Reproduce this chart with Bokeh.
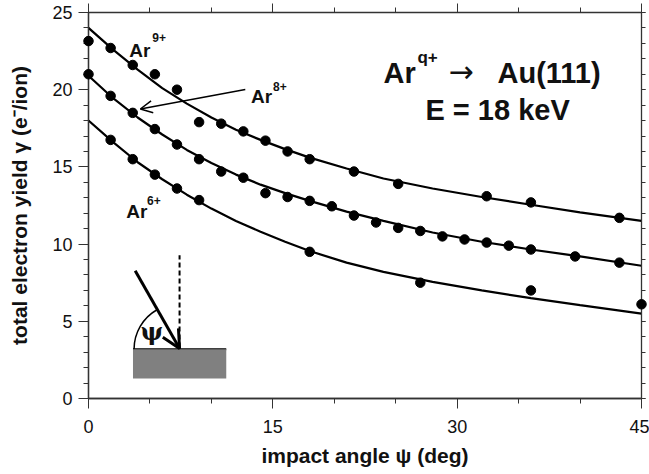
import math
from bokeh.plotting import figure
from bokeh.models import (Range1d, LinearAxis, SingleIntervalTicker, Label, Arrow,
                          OpenHead, BoxAnnotation)
from bokeh.embed import file_html
from bokeh.resources import INLINE

# ---- data ----
psi9 = [0, 1.8, 3.6, 5.4, 7.2, 9.0, 10.8, 12.6, 14.4, 16.2, 18.0, 21.6, 25.2, 32.4, 36.0, 43.2]
y9 = [23.15, 22.7, 21.6, 21.0, 20.0, 17.9, 17.8, 17.3, 16.7, 16.0, 15.5, 14.7, 13.9, 13.1, 12.7, 11.7]

psi8 = [0, 1.8, 3.6, 5.4, 7.2, 9.0, 10.8, 12.6, 14.4, 16.2, 18.0, 19.8, 21.6, 23.4, 25.2,
        27.0, 28.8, 30.6, 32.4, 34.2, 36.0, 39.6, 43.2]
y8 = [21.0, 19.6, 18.5, 17.45, 16.45, 15.5, 14.7, 14.3, 13.3, 13.05, 12.8, 12.45, 11.85, 11.4,
      11.05, 10.85, 10.5, 10.3, 10.1, 9.9, 9.65, 9.2, 8.8]

psi6 = [1.8, 3.6, 5.4, 7.2, 9.0, 18.0, 27.0, 36.0, 45.0]
y6 = [16.75, 15.5, 14.5, 13.6, 12.85, 9.5, 7.5, 7.0, 6.1]

fit_psi = [0, 2, 4, 6, 8, 10, 12, 14, 16, 18, 21, 24, 28, 32, 36, 40, 45]
fit9 = [24.0, 22.6, 21.3, 20.1, 19.1, 18.2, 17.4, 16.75, 16.15, 15.6, 14.9, 14.25, 13.6, 13.05, 12.55, 12.05, 11.5]
fit8 = [20.9, 19.45, 18.2, 17.1, 16.1, 15.25, 14.5, 13.85, 13.3, 12.8, 12.1, 11.5, 10.75, 10.15, 9.65, 9.2, 8.6]
fit6 = [18.0, 16.6, 15.3, 14.2, 13.2, 12.3, 11.5, 10.8, 10.15, 9.55, 8.8, 8.2, 7.55, 7.0, 6.5, 6.05, 5.5]

FONT = "Liberation Sans"
AX = "#333333"

p = figure(width=649, height=474, x_range=Range1d(0, 45), y_range=Range1d(0, 25),
           output_backend="svg", toolbar_location=None,
           min_border_left=88, min_border_right=8, min_border_top=12, min_border_bottom=76,
           x_axis_label="impact angle ψ (deg)",
           y_axis_label="total electron yield γ (e⁻/ion)")
p.grid.visible = False
p.outline_line_color = AX
p.outline_line_width = 1.3
p.background_fill_color = "white"
p.border_fill_color = "white"

xa = p.xaxis[0]
xa.ticker = SingleIntervalTicker(interval=15, num_minor_ticks=3)
ya = p.yaxis[0]
ya.ticker = SingleIntervalTicker(interval=5, num_minor_ticks=5)
for ax in (xa, ya):
    ax.axis_line_color = AX
    ax.axis_line_width = 1.3
    ax.major_tick_line_color = AX
    ax.minor_tick_line_color = AX
    ax.major_tick_in = 0
    ax.minor_tick_in = 0
    ax.major_tick_out = 10
    ax.minor_tick_out = 5
    ax.major_label_text_font = FONT
    ax.major_label_text_font_size = "18px"
    ax.major_label_text_color = "#111111"
    ax.axis_label_text_font = FONT
    ax.axis_label_text_font_style = "bold"
    ax.axis_label_text_font_size = "21px"
    ax.axis_label_text_color = "#111111"
xa.major_label_standoff = 11
xa.axis_label_standoff = 8
ya.major_label_standoff = 6
ya.axis_label_standoff = 18

top = LinearAxis(ticker=SingleIntervalTicker(interval=15, num_minor_ticks=3),
                 major_tick_in=0, minor_tick_in=0, major_tick_out=9, minor_tick_out=5,
                 major_label_text_font_size="1px", major_label_text_color=None,
                 major_label_standoff=0,
                 axis_line_color=AX, major_tick_line_color=AX, minor_tick_line_color=AX)
p.add_layout(top, "above")
right = LinearAxis(ticker=SingleIntervalTicker(interval=5, num_minor_ticks=5),
                   major_tick_in=0, minor_tick_in=0, major_tick_out=4, minor_tick_out=4,
                   major_label_text_font_size="1px", major_label_text_color=None,
                   major_label_standoff=0,
                   axis_line_color=AX, major_tick_line_color=AX, minor_tick_line_color=AX)
p.add_layout(right, "right")

# ---- fit curves ----
for fy in (fit9, fit8, fit6):
    p.line(fit_psi, fy, line_color="black", line_width=2.2)

# ---- data points ----
for xs, ys in ((psi9, y9), (psi8, y8), (psi6, y6)):
    r = p.scatter(xs, ys, size=9.5, fill_color="black", line_color="black")
    r.level = "overlay"

# ---- labels ----
def lab(x, y, text, size, bold=True, font=FONT, align="left"):
    p.add_layout(Label(x=x, y=y, text=text, text_font=font, text_font_size=size,
                       text_font_style="bold" if bold else "normal",
                       text_baseline="alphabetic", text_align=align, text_color="#111111"))

lab(3.32, 22.56, "Ar", "19px")
lab(5.19, 23.38, "9+", "12px")
lab(13.22, 19.53, "Ar", "19px")
lab(15.02, 20.23, "8+", "12px")
lab(3.07, 12.09, "Ar", "19px")
lab(4.76, 12.84, "6+", "12px")

lab(24.0, 21.07, "Ar", "29px")
lab(26.77, 22.1, "q+", "17px")
lab(29.3, 21.2, "→", "30px", bold=False, font="DejaVu Sans")
lab(33.28, 21.07, "Au(111)", "29px")
lab(27.42, 18.67, "E = 18 keV", "29px")

p.add_layout(Arrow(x_start=12.76, y_start=20.01, x_end=4.22, y_end=18.75,
                   line_width=1.5, line_color="black",
                   end=OpenHead(size=12, line_width=1.5, line_color="black")))

# ---- inset schematic ----
p.add_layout(BoxAnnotation(left=3.62, right=11.21, bottom=1.3, top=3.19,
                           fill_color="#808080", fill_alpha=1.0, line_color=None))
p.line([3.62, 11.21], [3.19, 3.19], line_color="black", line_width=2)
p.line([7.41, 7.41], [3.3, 9.28], line_color="black", line_width=2, line_dash="5 3")
p.arc(x=[7.41], y=[3.19], radius=45.5, radius_units="screen",
      start_angle=2.09, end_angle=math.pi, line_color="black", line_width=1.5)
p.add_layout(Arrow(x_start=3.8, y_start=8.27, x_end=7.41, y_end=3.24,
                   line_width=3, line_color="black",
                   end=OpenHead(size=18, line_width=3, line_color="black")))
lab(5.16, 4.35, "ψ", "24px", font="DejaVu Serif", align="center")

open("out.html", "w").write(file_html(p, INLINE))
